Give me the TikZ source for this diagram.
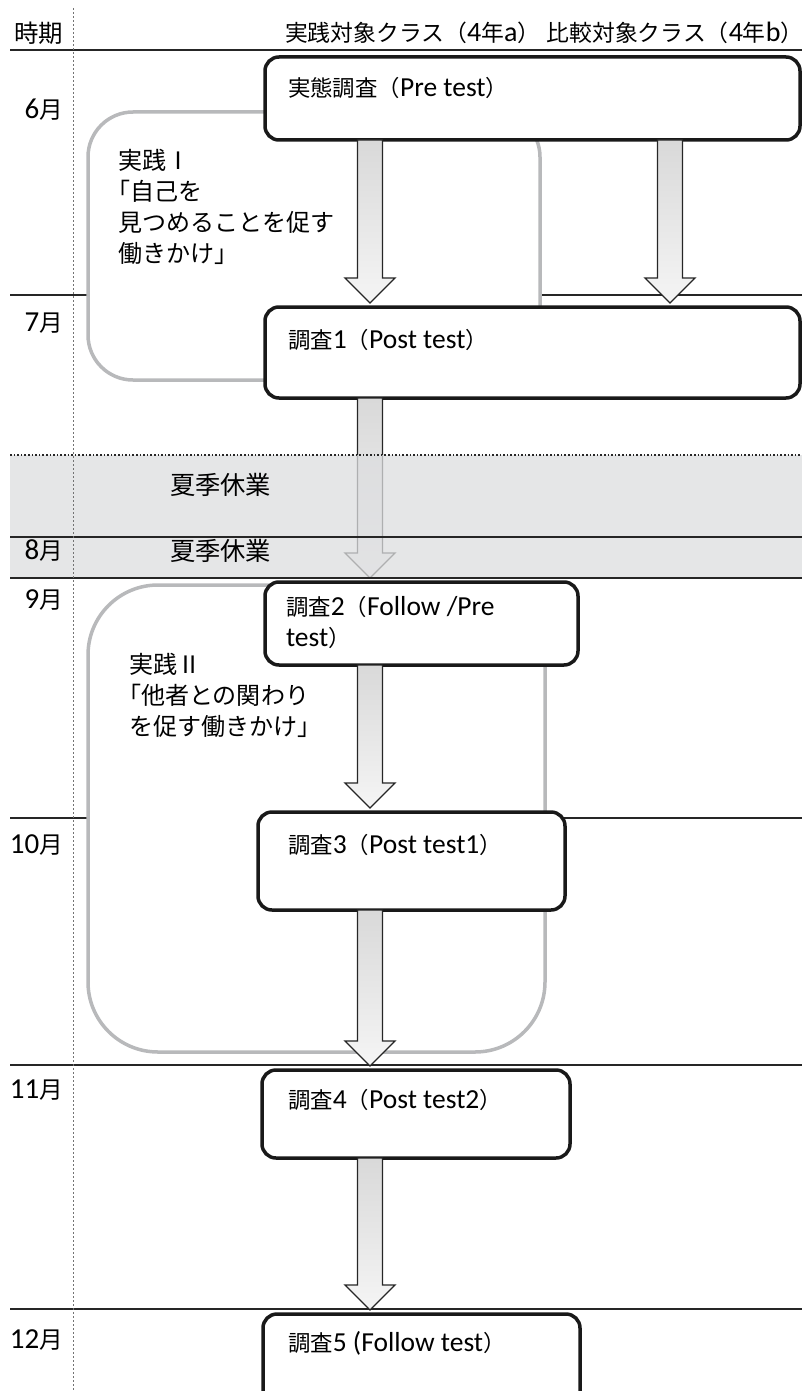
\documentclass[tikz,border=0pt]{standalone}
\usepackage{fontspec}
\setmainfont{Carlito}
\newfontfamily\jp[Scale=0.815]{Noto Sans CJK JP}
\usetikzlibrary{calc}
\definecolor{grayline}{HTML}{B8B9BB}
\definecolor{bandgray}{HTML}{DCDDDF}
\newcommand\blockarrow[3]{%
  \path[barrow] let \p1=(#3 |- #1.south), \p2=(#3 |- #2.north) in
    (\x1-12.5pt,\y1) -- (\x1-12.5pt,\y2+29pt) -- (\x1-25pt,\y2+29pt) -- (\x1,\y2+4pt)
    -- (\x1+25pt,\y2+29pt) -- (\x1+12.5pt,\y2+29pt) -- (\x1+12.5pt,\y1) -- cycle;}
\begin{document}
\begin{tikzpicture}[x=1pt,y=-1pt,
  font=\fontsize{27.5}{31}\selectfont,
  survey/.style={draw=black!90, line width=3.5pt, rounded corners=14pt, fill=white,
    anchor=north west, inner sep=0pt, outer sep=0pt},
  practice/.style={draw=grayline, line width=3.5pt, fill=white,
    anchor=north west, inner sep=0pt, outer sep=0pt},
  rule/.style={line width=2.2pt, black!85},
  barrow/.style={draw=black!85, line width=1.3pt, top color=gray!30, bottom color=gray!8},
  lbl/.style={inner sep=0pt, outer sep=0pt},
  month/.style={lbl, anchor=east, font=\fontsize{29}{33}\selectfont},
  txt/.style={lbl, anchor=west},
  multi/.style={lbl, anchor=north west, align=left},
  jpmulti/.style={multi, font=\fontsize{29.5}{31}\selectfont\jp},
]
\useasboundingbox (0,0) rectangle (802,1391);

% month rules
\draw[rule] (10,50) -- (802,50);
\draw[rule] (10,295) -- (802,295);
\draw[rule] (10,818) -- (802,818);
\draw[rule] (10,1065) -- (802,1065);
\draw[rule] (10,1309) -- (802,1309);

% practice frames
\node[practice, rounded corners=45pt, minimum width=452pt, minimum height=268pt] (p1) at (88,112) {};
\node[practice, rounded corners=70pt, minimum width=457pt, minimum height=467pt] (p2) at (88,585) {};

% survey boxes
\node[survey, minimum width=535pt, minimum height=83pt] (A) at (265,57) {};
\node[survey, minimum width=535pt, minimum height=91pt] (B) at (265,307) {};
\node[survey, minimum width=313pt, minimum height=83pt] (C) at (265,582) {};
\node[survey, minimum width=307pt, minimum height=98pt] (D) at (258,812) {};
\node[survey, minimum width=308pt, minimum height=88pt] (E) at (262,1070) {};
\node[survey, minimum width=317pt, minimum height=92pt] (F) at (263,1314) {};

\coordinate (colL) at (370,0);
\coordinate (colR) at (670,0);

% arrows
\blockarrow{A}{B}{colL}
\blockarrow{A}{B}{colR}
\blockarrow{B}{C}{colL}
\blockarrow{C}{D}{colL}
\blockarrow{D}{E}{colL}
\blockarrow{E}{F}{colL}

% summer band
\fill[bandgray, fill opacity=0.75] (10,455) rectangle (802,578);
\draw[dotted, line width=1.6pt, black!85] (10,455) -- (802,455);
\draw[rule] (10,537) -- (802,537);
\draw[rule] (10,578) -- (802,578);

% dotted time axis
\draw[black!55, line width=0.9pt, dash pattern=on 2pt off 2pt] (73,8) -- (73,1391);

% header
\node[txt] (h0) at (14,33) {\fontsize{30}{32}\selectfont\jp 時期};
\node[txt] (h1) at (285,33) {\fontsize{28}{32}\selectfont{\jp 実践対象クラス（}4{\jp 年}a{\jp ）} {\jp 比較対象クラス（}4{\jp 年}b{\jp ）}};

% months
\node[month] (m6) at (63,110) {6{\jp 月}};
\node[month] (m7) at (63,323) {7{\jp 月}};
\node[month] (m8) at (63,551) {8{\jp 月}};
\node[month] (m9) at (63,600) {9{\jp 月}};
\node[month] (m10) at (63,845) {10{\jp 月}};
\node[month] (m11) at (63,1090) {11{\jp 月}};
\node[month] (m12) at (63,1340) {12{\jp 月}};

% summer labels
\node[txt] (s1) at (170,485) {\fontsize{31}{33}\selectfont\jp 夏季休業};
\node[txt] (s2) at (170,551) {\fontsize{31}{33}\selectfont\jp 夏季休業};

% survey texts
\node[txt] (tA) at (288,88) {{\jp 実態調査（}Pre test{\jp ）}};
\node[txt] (tB) at (288,340) {{\jp 調査}1{\jp （}Post test{\jp ）}};
\node[multi] (tC) at (286,596) {{\jp 調査}2{\jp （}Follow /Pre\\test{\jp ）}};
\node[txt] (tD) at (288,845) {{\jp 調査}3{\jp （}Post test1{\jp ）}};
\node[txt] (tE) at (288,1100) {{\jp 調査}4{\jp （}Post test2{\jp ）}};
\node[txt] (tF) at (288,1343) {{\jp 調査}5 (Follow test{\jp ）}};

% practice texts
\node[jpmulti] (tp1) at (118,149) {実践Ⅰ\\\hspace*{-12pt}「自己を\\見つめることを促す\\働きかけ」};
\node[jpmulti] (tp2) at (129,653) {実践Ⅱ\\\hspace*{-12pt}「他者との関わり\\を促す働きかけ」};
\end{tikzpicture}
\end{document}
